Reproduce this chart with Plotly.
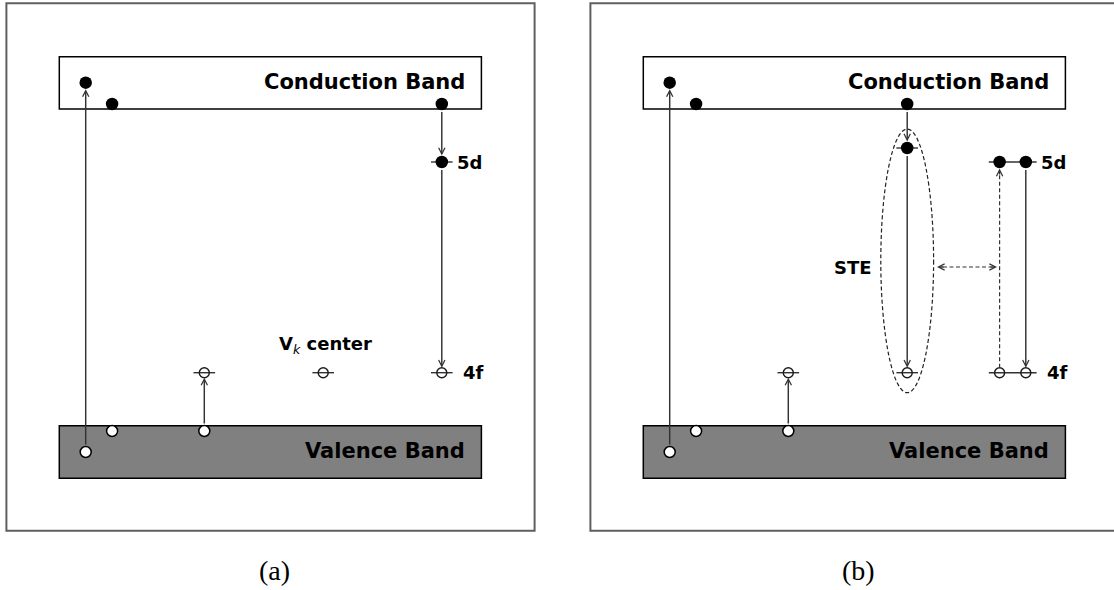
import plotly.graph_objects as go

W, H = 1114, 590

# ---------------- diagram data (diagram units, y grows downward) ----------------
panel_captions = ["(a)", "(b)"]
panel_shift = [0, 584]          # horizontal shift of each panel

# vertical energy positions
frame_y = [3.3, 530.7]
cb_y = [56.7, 109.0]            # conduction band
vb_y = [425.7, 478.3]           # valence band
y_hot_e = 82.7                  # hot electron in CB
y_cb_edge = 104.0               # thermalised electron at CB bottom
y_vb_edge = 431.0               # hole at VB top
y_deep_h = 452.0                # deep hole in VB
y_5d = 162.0
y_ste = 148.0
y_4f = 372.7
y_caption = 570.0

# horizontal positions (panel a coordinates)
frame_x = [6.4, 534.6]
band_x = [59.3, 481.4]
band_text_right = 467.0
x_hot = 85.7
x_therm = 112.1
x_trap = 204.3
x_vk = 323.2
x_ce = 441.8
x_ce2 = 415.6                   # second Ce ion in panel (b)
x_caption = 274.0

# STE exciton ellipse (panel b) and energy transfer arrow
ste_ellipse_x = [880.8, 933.6]
ste_ellipse_y = [129.0, 392.7]
transfer_x = [937.0, 997.0]
y_transfer = 267.0

# texts
band_labels = ["Conduction Band", "Valence Band"]
level_labels = ["5d", "4f"]
vk_label = "V<sub><span style=\"font-weight:normal\"><i>k</i></span></sub> center"
ste_label = "STE"

LINE = "#333333"
FONT = dict(family="DejaVu Sans", size=18, color="black", weight="bold")

fig = go.Figure()
shapes = []
annotations = []

def arrow(x0, y0, x1, y1, s0=0, s1=0):
    annotations.append(dict(
        x=x1, y=y1, ax=x0, ay=y0, xref="x", yref="y", axref="x", ayref="y",
        text="", showarrow=True, arrowhead=5, arrowsize=0.85, arrowwidth=1.45,
        arrowcolor=LINE, standoff=s1, startstandoff=s0))

filled_x, filled_y = [], []
hole_x, hole_y = [], []
lvl_x, lvl_y = [], []
lines_x, lines_y = [], []

def level(xs, y, half=10.8):
    lines_x.extend([min(xs) - half, max(xs) + half, None])
    lines_y.extend([y, y, None])

for i, sh in enumerate(panel_shift):
    # frame
    shapes.append(dict(type="rect", x0=frame_x[0] + sh, x1=frame_x[1] + sh,
                       y0=frame_y[0], y1=frame_y[1], line=dict(color="#5f5f5f", width=2),
                       layer="below"))
    # bands
    shapes.append(dict(type="rect", x0=band_x[0] + sh, x1=band_x[1] + sh,
                       y0=cb_y[0], y1=cb_y[1], line=dict(color="black", width=1.5),
                       fillcolor="white", layer="below"))
    shapes.append(dict(type="rect", x0=band_x[0] + sh, x1=band_x[1] + sh,
                       y0=vb_y[0], y1=vb_y[1], line=dict(color="black", width=1.5),
                       fillcolor="#808080", layer="below"))
    annotations.append(dict(x=band_text_right + sh, y=(cb_y[0] + cb_y[1]) / 2 - 1,
                            text=band_labels[0], showarrow=False, xanchor="right",
                            yanchor="middle", font=dict(FONT, size=21)))
    annotations.append(dict(x=band_text_right + sh, y=(vb_y[0] + vb_y[1]) / 2 - 1,
                            text=band_labels[1], showarrow=False, xanchor="right",
                            yanchor="middle", font=dict(FONT, size=21)))
    annotations.append(dict(x=x_caption + sh, y=y_caption, text=panel_captions[i],
                            showarrow=False, xanchor="center", yanchor="middle",
                            font=dict(family="Liberation Serif", size=28, color="black")))

    # common: excitation and thermalisation
    filled_x += [x_hot + sh, x_therm + sh]
    filled_y += [y_hot_e, y_cb_edge]
    hole_x += [x_hot + sh, x_therm + sh, x_trap + sh]
    hole_y += [y_deep_h, y_vb_edge, y_vb_edge]
    arrow(x_hot + sh, y_deep_h, x_hot + sh, y_hot_e, 6, 6.5)
    # hole trapping
    lvl_x.append(x_trap + sh)
    lvl_y.append(y_4f)
    level([x_trap + sh], y_4f)
    arrow(x_trap + sh, y_vb_edge, x_trap + sh, y_4f, 6, 5)

# ---- panel (a): Vk center and Ce3+ capture
sh = panel_shift[0]
lvl_x += [x_vk + sh, x_ce + sh]
lvl_y += [y_4f, y_4f]
level([x_vk + sh], y_4f)
level([x_ce + sh], y_4f)
level([x_ce + sh], y_5d)
filled_x += [x_ce + sh, x_ce + sh]
filled_y += [y_cb_edge, y_5d]
arrow(x_ce + sh, y_cb_edge, x_ce + sh, y_5d, 6.5, 6.5)
arrow(x_ce + sh, y_5d, x_ce + sh, y_4f, 6.5, 5)
annotations.append(dict(x=x_ce + sh + 13.6, y=y_5d, text=level_labels[0], showarrow=False,
                        xanchor="left", yanchor="middle", font=FONT))
annotations.append(dict(x=x_ce + sh + 19, y=y_4f, text=level_labels[1], showarrow=False,
                        xanchor="left", yanchor="middle", font=FONT))
annotations.append(dict(x=x_vk + sh + 2, y=y_4f - 28, text=vk_label, showarrow=False,
                        xanchor="center", yanchor="middle", font=FONT))

# ---- panel (b): STE and energy transfer
sh = panel_shift[1]
x_ste = x_vk + sh
filled_x += [x_ste, x_ste, x_ce2 + sh, x_ce + sh]
filled_y += [y_cb_edge, y_ste, y_5d, y_5d]
lvl_x += [x_ste, x_ce2 + sh, x_ce + sh]
lvl_y += [y_4f, y_4f, y_4f]
level([x_ste], y_ste)
level([x_ste], y_4f)
level([x_ce2 + sh, x_ce + sh], y_5d)
level([x_ce2 + sh, x_ce + sh], y_4f)
arrow(x_ste, y_cb_edge, x_ste, y_ste, 6.5, 6.5)
arrow(x_ste, y_ste, x_ste, y_4f, 6.5, 5)
arrow(x_ce + sh, y_5d, x_ce + sh, y_4f, 6.5, 5)
# dashed excitation of the second Ce ion
shapes.append(dict(type="line", x0=x_ce2 + sh, x1=x_ce2 + sh, y0=y_4f - 5, y1=y_5d + 12,
                   line=dict(color=LINE, width=1.2, dash="4px,2.5px")))
arrow(x_ce2 + sh, y_5d + 14, x_ce2 + sh, y_5d, 0, 6.5)
# STE ellipse
shapes.append(dict(type="circle", x0=ste_ellipse_x[0], x1=ste_ellipse_x[1],
                   y0=ste_ellipse_y[0], y1=ste_ellipse_y[1],
                   line=dict(color="#222222", width=1.2, dash="4px,2.5px")))
# dashed double arrow (energy transfer)
shapes.append(dict(type="line", x0=transfer_x[0] + 6, x1=transfer_x[1] - 6, y0=y_transfer,
                   y1=y_transfer, line=dict(color=LINE, width=1.2, dash="4px,2.5px")))
arrow(transfer_x[0] + 8, y_transfer, transfer_x[0], y_transfer)
arrow(transfer_x[1] - 8, y_transfer, transfer_x[1], y_transfer)
annotations.append(dict(x=x_ce + sh + 13.6, y=y_5d, text=level_labels[0], showarrow=False,
                        xanchor="left", yanchor="middle", font=FONT))
annotations.append(dict(x=x_ce + sh + 19, y=y_4f, text=level_labels[1], showarrow=False,
                        xanchor="left", yanchor="middle", font=FONT))
annotations.append(dict(x=ste_ellipse_x[0] - 7, y=y_transfer, text=ste_label, showarrow=False,
                        xanchor="right", yanchor="middle", font=FONT))

# ---------------- traces ----------------
fig.add_trace(go.Scatter(x=lines_x, y=lines_y, mode="lines",
                         line=dict(color=LINE, width=1.4), hoverinfo="skip"))
fig.add_trace(go.Scatter(x=lvl_x, y=lvl_y, mode="markers", hoverinfo="skip",
                         marker=dict(symbol="circle-open", size=10, color="#1a1a1a",
                                     line=dict(width=1.4))))
fig.add_trace(go.Scatter(x=hole_x, y=hole_y, mode="markers", hoverinfo="skip",
                         marker=dict(symbol="circle", size=11, color="white",
                                     line=dict(color="black", width=1.5))))
fig.add_trace(go.Scatter(x=filled_x, y=filled_y, mode="markers", hoverinfo="skip",
                         marker=dict(symbol="circle", size=12.5, color="black",
                                     line=dict(width=0))))

fig.update_layout(
    width=W, height=H, margin=dict(l=0, r=0, t=0, b=0),
    paper_bgcolor="white", plot_bgcolor="white", showlegend=False,
    xaxis=dict(range=[0, W], visible=False, fixedrange=True),
    yaxis=dict(range=[H, 0], visible=False, fixedrange=True),
    shapes=shapes, annotations=annotations,
)

fig.write_html("out.html")
